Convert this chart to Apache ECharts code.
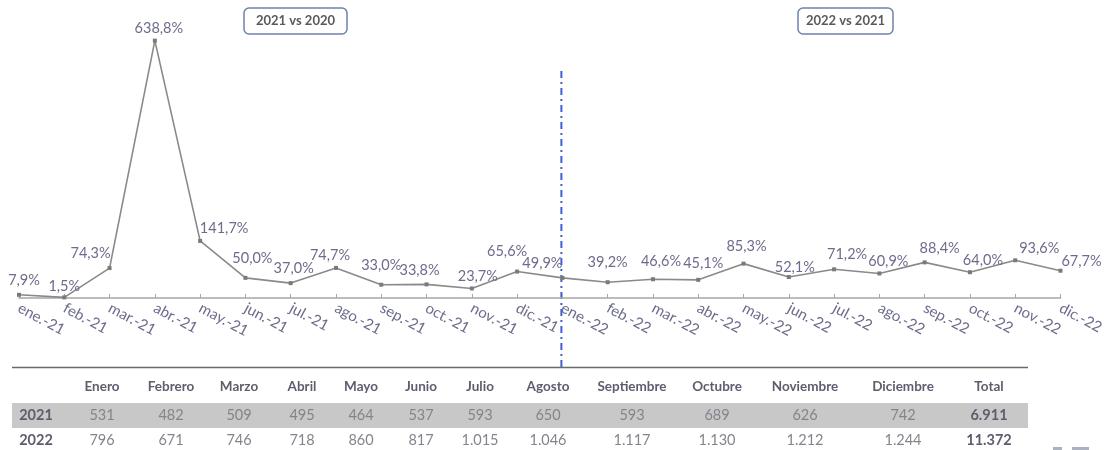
<!DOCTYPE html>
<html>
<head>
<meta charset="utf-8">
<script src="https://cdn.jsdelivr.net/npm/echarts@6/dist/echarts.min.js"></script>
<style>
  html, body { margin: 0; padding: 0; background: #fff; }
  #chart { width: 1107px; height: 450px; }
</style>
</head>
<body>
<div id="chart"></div>
<script>
// Monthly categories across two years
const months = ['ene.-21','feb.-21','mar.-21','abr.-21','may.-21','jun.-21','jul.-21','ago.-21','sep.-21','oct.-21','nov.-21','dic.-21',
                'ene.-22','feb.-22','mar.-22','abr.-22','may.-22','jun.-22','jul.-22','ago.-22','sep.-22','oct.-22','nov.-22','dic.-22'];
// Year-over-year growth (%)
const growth = [7.9, 1.5, 74.3, 638.8, 141.7, 50.0, 37.0, 74.7, 33.0, 33.8, 23.7, 65.6,
                49.9, 39.2, 46.6, 45.1, 85.3, 52.1, 71.2, 60.9, 88.4, 64.0, 93.6, 67.7];
// Small label nudges [dx, dy] so neighbouring labels don't collide
const labelNudges = [[5,0],[0,3],[-19,0],[4,2],[24,2],[7,-5],[3,0],[-6,2],[0,-5],[-7,0],[6,2],[-10,-6],
                     [-20,0],[0,-5],[8,-3],[5,-2],[3,-3],[6,5],[13,0],[9,2],[15,0],[13,3],[24,3],[21,5]];

// Table below the chart
const tableMonths = ['Enero','Febrero','Marzo','Abril','Mayo','Junio','Julio','Agosto','Septiembre','Octubre','Noviembre','Diciembre','Total'];
const rowYears = ['2021', '2022'];
const units2021 = ['531','482','509','495','464','537','593','650','593','689','626','742','6.911'];
const units2022 = ['796','671','746','718','860','817','1.015','1.046','1.117','1.130','1.212','1.244','11.372'];

// Period badges
const periodLabels = ['2021 vs 2020', '2022 vs 2021'];

const FONT = 'Lato, "Open Sans", sans-serif';
const LABEL_COLOR = '#6c6c8c';

const chart = echarts.init(document.getElementById('chart'), null, { renderer: 'canvas' });

const fmt = v => v.toFixed(1).replace('.', ',') + '%';

chart.setOption({
  animation: false,
  backgroundColor: '#ffffff',
  grid: { left: 19, right: 42, top: 16, bottom: 152, containLabel: false },
  xAxis: {
    type: 'category',
    data: months,
    boundaryGap: false,
    axisLine: { lineStyle: { color: '#a6a6a6', width: 1.5 } },
    axisTick: { show: true, inside: true, length: 4, alignWithLabel: true, lineStyle: { color: '#a6a6a6' } },
    axisLabel: {
      rotate: -28, interval: 0, margin: 9,
      color: LABEL_COLOR, fontFamily: FONT, fontSize: 15
    },
    splitLine: { show: false }
  },
  yAxis: { type: 'value', min: 0, max: 700, show: false, splitLine: { show: false } },
  series: [{
    type: 'line',
    data: growth.map((v, i) => ({
      value: v,
      label: { offset: labelNudges[i] }
    })),
    symbol: 'rect',
    symbolSize: 4,
    lineStyle: { color: '#8a8a8a', width: 1.6 },
    itemStyle: { color: '#7a7a7a' },
    label: {
      show: true, position: 'top', distance: 5,
      formatter: p => fmt(p.value),
      color: LABEL_COLOR, fontFamily: FONT, fontSize: 14.5
    }
  }]
});

// Layout for overlay graphics
const colX = [102, 171, 239, 302, 361, 421, 480, 548, 632, 717, 805, 903, 989];
const splitX = chart.convertToPixel({ xAxisIndex: 0 }, 'ene.-22') - 1;

const graphics = [];

// Divider between the two periods
graphics.push({
  type: 'line', silent: true,
  shape: { x1: splitX, y1: 71, x2: splitX, y2: 368 },
  style: { stroke: '#3d5fd9', lineWidth: 2, lineDash: [7, 4, 2, 4] }
});

// Period badges
const badges = [{ x: 244, w: 103 }, { x: 798, w: 95 }];
badges.forEach((b, i) => {
  graphics.push({
    type: 'rect', silent: true,
    shape: { x: b.x, y: 8, width: b.w, height: 26, r: 5 },
    style: { fill: '#fff', stroke: '#6f82ad', lineWidth: 1.5 }
  });
  graphics.push({
    type: 'text', silent: true,
    x: b.x + b.w / 2, y: 21,
    style: { text: periodLabels[i], fill: '#5a5a5a', font: 'bold 13px ' + FONT, align: 'center', verticalAlign: 'middle' }
  });
});

// Table: top rule and shaded row
graphics.push({ type: 'line', silent: true, shape: { x1: 12, y1: 367.5, x2: 1028, y2: 367.5 }, style: { stroke: '#6a6a6a', lineWidth: 1.5 } });
graphics.push({ type: 'rect', silent: true, shape: { x: 12, y: 403, width: 1016, height: 25 }, style: { fill: '#c8c8c8' } });

tableMonths.forEach((m, i) => {
  graphics.push({
    type: 'text', silent: true, x: colX[i], y: 387,
    style: { text: m, fill: '#5d5d6d', font: 'bold 13.5px ' + FONT, align: 'center', verticalAlign: 'middle' }
  });
});
[units2021, units2022].forEach((row, r) => {
  const y = r === 0 ? 415.5 : 440;
  graphics.push({
    type: 'text', silent: true, x: 36, y: y,
    style: { text: rowYears[r], fill: '#5d5d6d', font: 'bold 14.5px ' + FONT, align: 'center', verticalAlign: 'middle' }
  });
  row.forEach((v, i) => {
    const isTotal = i === row.length - 1;
    graphics.push({
      type: 'text', silent: true, x: colX[i], y: y,
      style: {
        text: v,
        fill: isTotal ? '#5d5d6d' : '#84848c',
        font: (isTotal ? 'bold ' : '') + '14.5px ' + FONT,
        align: 'center', verticalAlign: 'middle'
      }
    });
  });
});

// Partial footer mark at the bottom-right edge
graphics.push({ type: 'rect', silent: true, shape: { x: 1053, y: 447, width: 9, height: 3 }, style: { fill: '#aab2c2' } });
graphics.push({ type: 'rect', silent: true, shape: { x: 1072, y: 447, width: 17, height: 3 }, style: { fill: '#aab2c2' } });

chart.setOption({ graphic: graphics });
</script>
</body>
</html>
